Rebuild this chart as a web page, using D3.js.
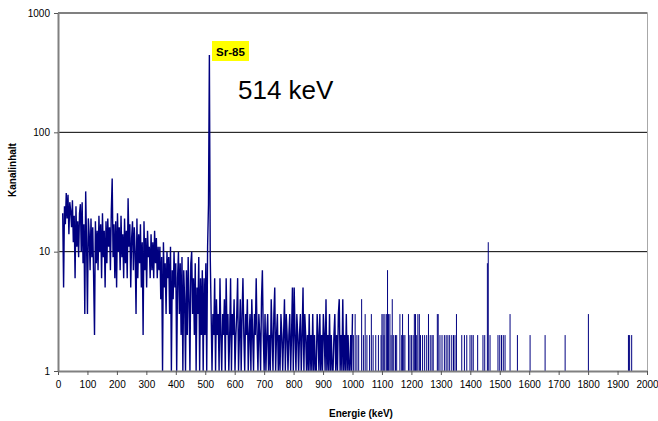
<!DOCTYPE html>
<html>
<head>
<meta charset="utf-8">
<script src="https://cdn.jsdelivr.net/npm/d3@7"></script>
<style>
  body { margin: 0; background: #fff; }
  svg { display: block; font-family: "Liberation Sans", Arial, sans-serif; }
</style>
</head>
<body>
<svg id="chart" width="658" height="421"></svg>
<script>
// Channel calibration of the spectrum (keV)
const CHANNEL_START = 16;
const CHANNEL_STEP = 3;

// Counts per channel, 16 .. 523 keV (Sr-85 line at 514 keV)
const countsLow = [
  21, 5, 24, 17, 31, 19, 30, 14, 26, 22,
  16, 27, 12, 20, 6, 24, 11, 18, 9, 21,
  25, 10, 26, 8, 17, 3, 32, 12, 3, 19,
  14, 7, 19, 9, 16, 6, 2, 18, 8, 15,
  7, 20, 10, 17, 6, 21, 9, 15, 5, 18,
  8, 19, 11, 16, 7, 22, 41, 9, 17, 6,
  18, 5, 21, 10, 16, 7, 20, 9, 14, 6,
  19, 8, 15, 6, 28, 11, 17, 5, 13, 18,
  7, 16, 10, 3, 19, 6, 14, 8, 17, 5,
  12, 2, 18, 7, 13, 5, 15, 9, 11, 6,
  14, 7, 12, 6, 15, 8, 13, 6, 11, 7,
  11, 4, 9, 1, 12, 5, 8, 3, 10, 6,
  9, 3, 11, 1, 7, 4, 10, 5, 8, 1,
  6, 10, 3, 8, 2, 9, 1, 7, 4, 1,
  7, 2, 9, 4, 1, 8, 10, 3, 6, 2,
  8, 1, 5, 3, 9, 1, 6, 2, 7, 1,
  6, 2, 8, 1, 11, 25, 445, 9, 3, 1
];

// Counts per channel, 526 .. 1000 keV
const countsMid = [
  3, 2, 6, 1, 4, 2, 3, 1, 6, 2,
  1, 3, 2, 4, 1, 6, 2, 3, 1, 2,
  6, 1, 3, 2, 4, 1, 2, 3, 6, 1,
  2, 4, 1, 3, 6, 2, 1, 3, 2, 4,
  1, 2, 3, 1, 4, 2, 1, 3, 2, 6,
  2, 1, 3, 2, 1, 4, 7, 2, 1, 3,
  1, 2, 3, 1, 2, 1, 4, 2, 1, 3,
  5, 1, 2, 3, 1, 2, 1, 3, 2, 1,
  2, 4, 1, 3, 2, 1, 2, 3, 1, 2,
  5, 1, 5, 2, 1, 3, 2, 1, 2, 3,
  1, 2, 5, 1, 3, 2, 1, 2, 1, 3,
  1, 2, 1, 3, 1, 2, 1, 1, 3, 2,
  1, 3, 1, 2, 1, 3, 2, 1, 4, 1,
  2, 1, 3, 1, 2, 1, 1, 2, 3, 1,
  2, 1, 3, 4, 1, 2, 1, 4, 1, 2,
  1, 3, 1, 2, 1, 1, 2, 1, 3
];

// Above 1000 keV only single channels rise above the floor: [keV, counts]
const highChannels = [
  [1003, 2], [1009, 3], [1015, 2], [1021, 2], [1031, 4], [1037, 2], [1043, 3],
  [1049, 2], [1058, 2], [1064, 3], [1070, 2], [1079, 2], [1088, 2], [1097, 2],
  [1100, 3], [1104, 3], [1107, 2], [1110, 3], [1116, 3], [1119, 7], [1122, 3],
  [1127, 3], [1131, 2], [1135, 4], [1140, 2], [1146, 2], [1150, 2], [1161, 3],
  [1167, 2], [1170, 3], [1174, 2], [1178, 2], [1190, 3], [1195, 2], [1200, 2],
  [1206, 2], [1210, 3], [1214, 3], [1218, 2], [1222, 3], [1227, 3], [1231, 2],
  [1238, 2], [1245, 2], [1252, 2], [1258, 3], [1264, 2], [1270, 2], [1274, 2],
  [1288, 3], [1291, 3], [1297, 2], [1304, 2], [1312, 2], [1318, 2], [1324, 2],
  [1330, 2], [1337, 2], [1343, 2], [1348, 2], [1353, 3], [1371, 2], [1380, 2],
  [1388, 2], [1399, 2], [1405, 2], [1410, 2], [1425, 2], [1443, 2], [1449, 2],
  [1458, 8], [1461, 12], [1467, 2], [1494, 2], [1500, 2], [1506, 2], [1512, 2],
  [1518, 2], [1535, 3], [1560, 2], [1603, 2], [1654, 2], [1722, 2], [1801, 3],
  [1937, 2], [1941, 2], [1948, 2]
];

const xTicks = [0, 100, 200, 300, 400, 500, 600, 700, 800, 900, 1000,
                1100, 1200, 1300, 1400, 1500, 1600, 1700, 1800, 1900, 2000];
const yTicks = [1, 10, 100, 1000];
const gridValues = [10, 100];

const peakTag = "Sr-85";
const peakEnergy = "514 keV";
const xTitle = "Energie (keV)";
const yTitle = "Kanalinhalt";

const svg = d3.select('#chart');
const plotLeft = 58, plotRight = 647, plotTop = 13, plotBottom = 371;

const x = d3.scaleLinear().domain([0, 2000]).range([plotLeft, plotRight]);
const y = d3.scaleLog().domain([1, 1000]).range([plotBottom, plotTop]);

const spectrum = countsLow.concat(countsMid)
  .map((c, i) => ({ e: CHANNEL_START + i * CHANNEL_STEP, c }));

// Gridlines
svg.append('g')
  .selectAll('line')
  .data(gridValues)
  .join('line')
    .attr('x1', plotLeft).attr('x2', plotRight)
    .attr('y1', d => y(d)).attr('y2', d => y(d))
    .attr('stroke', '#000')
    .attr('stroke-width', 1);

// Plot border top / right
svg.append('line')
  .attr('x1', plotLeft).attr('x2', plotRight + 0.5)
  .attr('y1', y(1000)).attr('y2', y(1000))
  .attr('stroke', '#808080').attr('stroke-width', 2);
svg.append('line')
  .attr('x1', plotRight + 0.5).attr('x2', plotRight + 0.5)
  .attr('y1', plotTop).attr('y2', plotBottom)
  .attr('stroke', '#a8a8a8').attr('stroke-width', 1);

// Spectrum line
const line = d3.line()
  .x(d => x(d.e))
  .y(d => y(d.c));

svg.append('path')
  .datum(spectrum)
  .attr('d', line)
  .attr('fill', 'none')
  .attr('stroke', '#000080')
  .attr('stroke-width', 1.4)
  .attr('stroke-linejoin', 'bevel');

// Single-channel spikes above 1000 keV
svg.append('g')
  .selectAll('line')
  .data(highChannels)
  .join('line')
    .attr('x1', d => x(d[0])).attr('x2', d => x(d[0]))
    .attr('y1', y(1)).attr('y2', d => y(d[1]))
    .attr('stroke', '#000080')
    .attr('stroke-width', 1);

// Axes
const xAxis = d3.axisBottom(x)
  .tickValues(xTicks)
  .tickFormat(d3.format('d'))
  .tickSize(4)
  .tickSizeOuter(0)
  .tickPadding(6);

const yAxis = d3.axisLeft(y)
  .tickValues(yTicks)
  .tickFormat(d3.format('d'))
  .tickSize(4)
  .tickSizeOuter(0)
  .tickPadding(4);

function styleAxis(g) {
  g.select('.domain').attr('stroke', '#808080').attr('stroke-width', 2);
  g.selectAll('.tick line').attr('stroke', '#555');
  g.selectAll('.tick text')
    .attr('fill', '#000')
    .style('font-size', '10px')
    .style('font-family', '"Liberation Sans", Arial, sans-serif');
}

svg.append('g')
  .attr('transform', `translate(0,${plotBottom})`)
  .call(xAxis)
  .call(styleAxis);

svg.append('g')
  .attr('transform', `translate(${plotLeft},0)`)
  .call(yAxis)
  .call(styleAxis);

// Axis titles
svg.append('text')
  .attr('x', 361).attr('y', 417)
  .attr('text-anchor', 'middle')
  .style('font-size', '10px')
  .style('font-weight', 'bold')
  .text(xTitle);

svg.append('text')
  .attr('transform', 'translate(16,170) rotate(-90)')
  .attr('text-anchor', 'middle')
  .style('font-size', '10px')
  .style('font-weight', 'bold')
  .text(yTitle);

// Peak annotation
const tag = svg.append('g').attr('transform', 'translate(212,41)');
tag.append('rect')
  .attr('width', 37).attr('height', 20)
  .attr('fill', '#ffff00');
tag.append('text')
  .attr('x', 18.5).attr('y', 14.5)
  .attr('text-anchor', 'middle')
  .style('font-size', '11.5px')
  .style('font-weight', 'bold')
  .text(peakTag);

svg.append('text')
  .attr('x', 238).attr('y', 99)
  .style('font-size', '26px')
  .text(peakEnergy);
</script>
</body>
</html>
